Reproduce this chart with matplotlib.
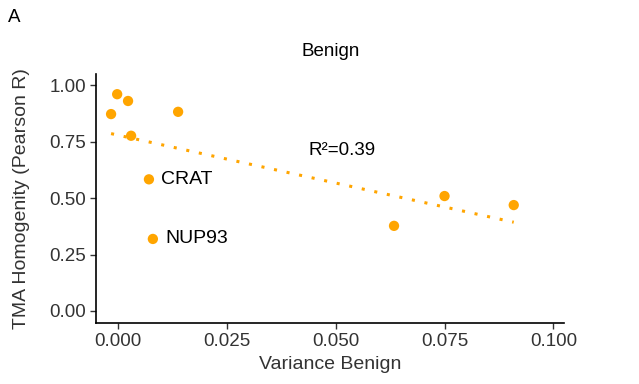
import numpy as np
import matplotlib
matplotlib.use("Agg")
import matplotlib.pyplot as plt
import matplotlib.transforms as mtransforms

plt.rcParams['font.family'] = ['Liberation Sans', 'DejaVu Sans']

# data
variance = [-0.0016, -0.0002, 0.0023, 0.0030, 0.0138, 0.0071, 0.0080, 0.0634, 0.0750, 0.0909]
homogeneity = [0.872, 0.960, 0.930, 0.776, 0.882, 0.583, 0.319, 0.377, 0.509, 0.469]
labelled = {"CRAT": 5, "NUP93": 6}
xticks = [0.0, 0.025, 0.05, 0.075, 0.1]
xticklabels = ["0.000", "0.025", "0.050", "0.075", "0.100"]
yticks = [0.0, 0.25, 0.5, 0.75, 1.0]
yticklabels = ["0.00", "0.25", "0.50", "0.75", "1.00"]
r2_text = "R²=0.39"

orange = "#FFA500"
x = np.array(variance)
y = np.array(homogeneity)

fig = plt.figure(figsize=(6.39, 3.84), dpi=100)
ax = fig.add_axes([0.151, 0.159, 0.732, 0.648])

slope, intercept = np.polyfit(x, y, 1)
xl = np.array([x.min(), x.max()])
ax.plot(xl, intercept + slope * xl, color=orange, lw=2.2,
        linestyle=(0, (1, 3.2)), dash_capstyle='butt', zorder=1)
ax.scatter(x, y, s=55, color=orange, edgecolors='none', zorder=2)

for name, i in labelled.items():
    ax.annotate(name, (x[i], y[i]), xytext=(9, 0), textcoords='offset points',
                ha='left', va='center', fontsize=14, color='black')

ax.text(0.0515, 0.712, r2_text, fontsize=13.5, ha='center', va='center')

ax.set_xlim(-0.00495, 0.1025)
ax.set_ylim(-0.053, 1.049)
ax.set_xticks(xticks)
ax.set_xticklabels(xticklabels)
ax.set_yticks(yticks)
ax.set_yticklabels(yticklabels)
# label offsets as in reference
offsets = [3, 36, 5, 35, 0]
for lab, off in zip(ax.get_xticklabels(), offsets):
    lab.set_transform(lab.get_transform() + mtransforms.ScaledTranslation(off / 100, 0, fig.dpi_scale_trans))

ax.tick_params(axis='both', labelsize=13.5, colors='#333333', labelcolor='#333333',
               length=4, width=1)
for s in ['top', 'right']:
    ax.spines[s].set_visible(False)
for s in ['left', 'bottom']:
    ax.spines[s].set_linewidth(1.2)
    ax.spines[s].set_color('black')

ax.set_xlabel("Variance Benign", fontsize=14, color='#333333', labelpad=4)
ax.set_ylabel("TMA Homogenity (Pearson R)", fontsize=14, color='#333333', labelpad=14)
ax.set_title("Benign", fontsize=13.5, pad=13)
fig.text(14 / 639, 1 - 18 / 384, "A", fontsize=13.5, ha='center', va='center')

fig.savefig("out.png", dpi=100)
